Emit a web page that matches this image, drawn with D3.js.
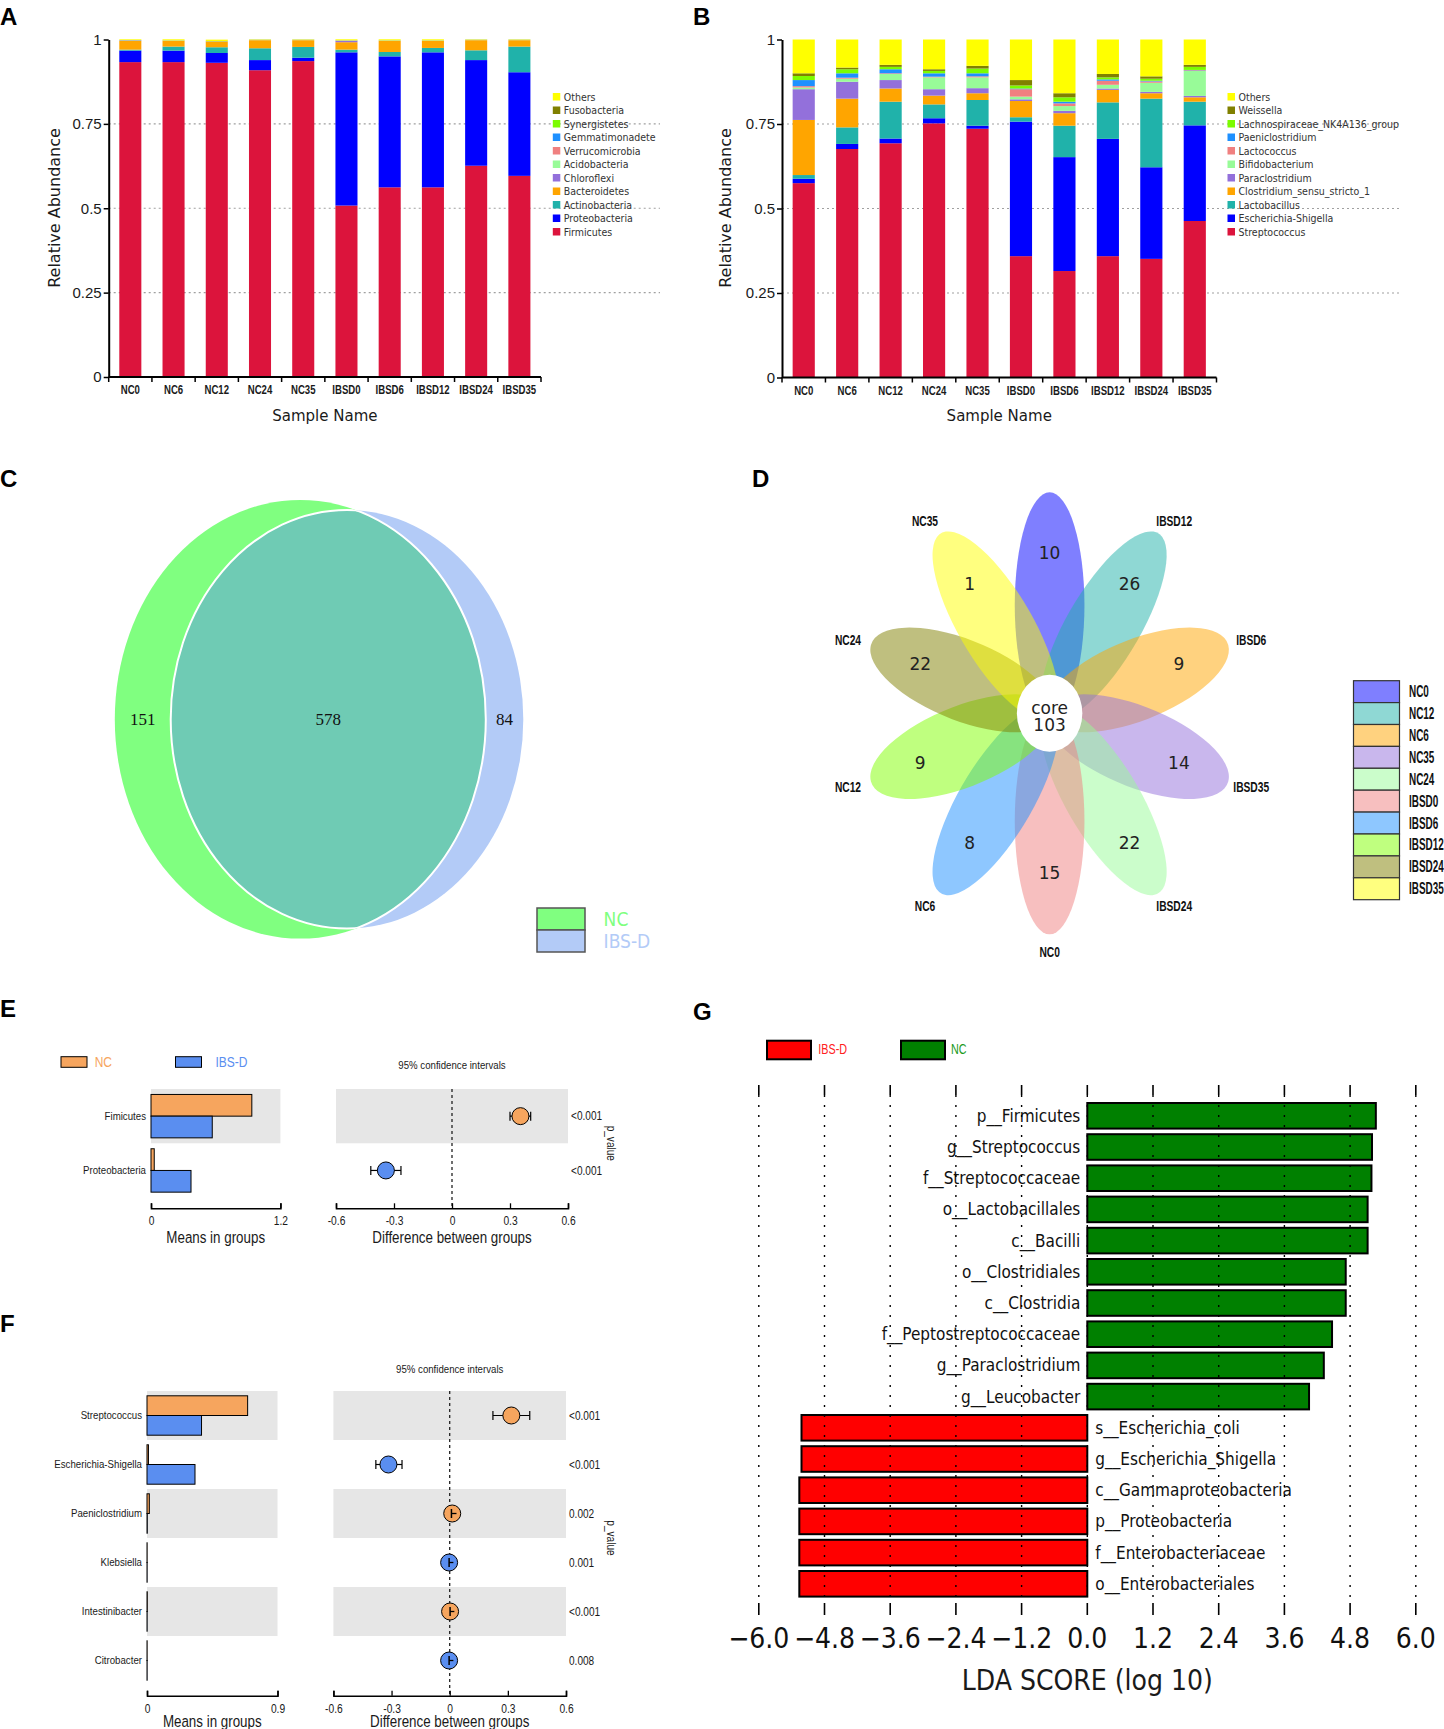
<!DOCTYPE html>
<html>
<head>
<meta charset="utf-8">
<script src="https://cdn.jsdelivr.net/npm/d3@7"></script>
<style>
  html, body { margin: 0; padding: 0; background: #fff; }
  svg { display: block; }
</style>
</head>
<body>
<svg id="fig" width="1444" height="1729"></svg>
<script>
// ---------- data ----------
var samples = ["NC0", "NC6", "NC12", "NC24", "NC35", "IBSD0", "IBSD6", "IBSD12", "IBSD24", "IBSD35"];

// A: phylum level relative abundance (stack order bottom -> top)
var phyla = ["Firmicutes", "Proteobacteria", "Actinobacteria", "Bacteroidetes", "Chloroflexi", "Acidobacteria",
  "Verrucomicrobia", "Gemmatimonadete", "Synergistetes", "Fusobacteria", "Others"];
var aFirmicutes       = [.933, .933, .931, .909, .936, .508, .562, .562, .626, .596];
var aProteobacteria   = [.034, .034, .029, .030, .010, .454, .388, .400, .313, .307];
var aActinobacteria   = [.003, .012, .017, .035, .032, .008, .013, .013, .029, .076];
var aBacteroidetes    = [.026, .017, .017, .024, .020, .022, .033, .021, .030, .019];
var aChloroflexi      = [.001, .000, .000, .000, .000, .004, .000, .000, .000, .000];
var aAcidobacteria    = [.0004, .0004, .0004, .0004, .0004, .0004, .0004, .0004, .0004, .0004];
var aVerrucomicrobia  = [.0003, .0003, .0003, .0003, .0003, .0003, .0003, .0003, .0003, .0003];
var aGemmatimonadetes = [.0003, .0003, .0003, .0003, .0003, .0003, .0003, .0003, .0003, .0003];
var aSynergistetes    = [.0003, .0003, .0003, .0003, .0003, .0003, .0003, .0003, .0003, .0003];
var aFusobacteria     = [.0003, .0003, .0003, .0003, .0003, .0003, .0003, .0003, .0003, .0003];
var aOthers           = [.002, .003, .004, .001, .001, .003, .003, .003, .001, .001];

// B: genus level relative abundance (stack order bottom -> top)
var genera = ["Streptococcus", "Escherichia-Shigella", "Lactobacillus", "Clostridium_sensu_stricto_1", "Paraclostridium",
  "Bifidobacterium", "Lactococcus", "Paeniclostridium", "Lachnospiraceae_NK4A136_group", "Weissella", "Others"];
var bStreptococcus   = [.575, .676, .693, .752, .736, .359, .315, .359, .351, .463];
var bEscherichia     = [.013, .015, .014, .015, .009, .398, .337, .347, .271, .283];
var bLactobacillus   = [.011, .049, .109, .041, .076, .013, .093, .108, .203, .070];
var bClostridium     = [.163, .085, .039, .026, .020, .048, .037, .037, .016, .013];
var bParaclostridium = [.091, .050, .025, .019, .015, .005, .007, .004, .004, .004];
var bBifidobacterium = [.005, .009, .018, .035, .032, .008, .014, .011, .027, .074];
var bLactococcus     = [.004, .003, .002, .002, .003, .022, .008, .012, .004, .002];
var bPaeniclostridium= [.018, .013, .012, .010, .009, .002, .005, .004, .002, .001];
var bLachnospiraceae = [.012, .012, .007, .007, .014, .009, .013, .006, .006, .009];
var bWeissella       = [.008, .005, .006, .005, .008, .016, .012, .010, .007, .006];
var bOthers          = [.100, .083, .075, .088, .078, .120, .159, .102, .109, .075];

var stackColors = ["#dc143c", "#0000ff", "#20b2aa", "#ffa500", "#9370db", "#98fb98",
  "#f08080", "#1e90ff", "#7cfc00", "#808000", "#ffff00"];

// C: Venn counts [NC only, shared, IBS-D only]
var vennCounts = [151, 578, 84];
var vennGroups = ["NC", "IBS-D"];

// D: flower, petals clockwise from the top
var petalCounts = [10, 26, 9, 14, 22, 15, 8, 9, 22, 1];
var petalLabels = ["", "IBSD12", "IBSD6", "IBSD35", "IBSD24", "NC0", "NC6", "NC12", "NC24", "NC35"];
var petalColors = ["#0000ff", "#20b2aa", "#ffa500", "#9370db", "#98fb98", "#f08080", "#1e90ff", "#7fff00", "#808000", "#ffff00"];
var flowerLegend = ["NC0", "NC12", "NC6", "NC35", "NC24", "IBSD0", "IBSD6", "IBSD12", "IBSD24", "IBSD35"];
var coreCount = 103;

// E: phylum level STAMP
var eTaxa   = ["Fimicutes", "Proteobacteria"];
var eMeanNC = [0.935, 0.030];
var eMeanIB = [0.568, 0.371];
var eDiff   = [0.354, -0.342];
var eLow    = [0.300, -0.420];
var eHigh   = [0.407, -0.264];
var eP      = ["<0.001", "<0.001"];

// F: genus level STAMP
var fTaxa   = ["Streptococcus", "Escherichia-Shigella", "Paeniclostridium", "Klebsiella", "Intestinibacter", "Citrobacter"];
var fMeanNC = [0.694, 0.010, 0.016, 0.001, 0.002, 0.001];
var fMeanIB = [0.376, 0.331, 0.002, 0.001, 0.001, 0.001];
var fDiff   = [0.318, -0.316, 0.013, -0.003, 0.002, -0.003];
var fLow    = [0.223, -0.381, 0.009, -0.003, 0.002, -0.003];
var fHigh   = [0.413, -0.246, 0.037, 0.027, 0.034, 0.025];
var fP      = ["<0.001", "<0.001", "0.002", "0.001", "<0.001", "0.008"];

// G: LEfSe LDA scores
var ldaTaxa = ["p__Firmicutes", "g__Streptococcus", "f__Streptococcaceae", "o__Lactobacillales", "c__Bacilli",
  "o__Clostridiales", "c__Clostridia", "f__Peptostreptococcaceae", "g__Paraclostridium", "g__Leucobacter",
  "s__Escherichia_coli", "g__Escherichia_Shigella", "c__Gammaproteobacteria", "p__Proteobacteria",
  "f__Enterobacteriaceae", "o__Enterobacteriales"];
var ldaScores = [5.27, 5.20, 5.19, 5.12, 5.12, 4.72, 4.72, 4.47, 4.32, 4.05,
  -5.22, -5.22, -5.26, -5.26, -5.26, -5.26];
var ldaTicks = [-6, -4.8, -3.6, -2.4, -1.2, 0, 1.2, 2.4, 3.6, 4.8, 6];

// ---------- styles ----------
var COND = "'DejaVu Sans Condensed', 'DejaVu Sans', sans-serif";
var SANS = "'DejaVu Sans', Verdana, sans-serif";
var ARIAL = "'Liberation Sans', Arial, sans-serif";
var SERIF = "'Liberation Serif', 'Times New Roman', serif";
var ORANGE = "#f6a55e", BLUE = "#5a8ef0", GRAY = "#e6e6e6";

var svg = d3.select("#fig");
svg.append("rect").attr("width", 1444).attr("height", 1729).attr("fill", "#fff");

function txt(g, s, x, y, size, family) {
  return g.append("text").attr("x", x).attr("y", y).text(s)
    .attr("font-size", size).attr("font-family", family).attr("fill", "#1a1a1a");
}
// narrow text: Liberation Sans squeezed horizontally (no narrow face installed)
function ntxt(g, s, x, y, size, sx) {
  return g.append("text").attr("transform", "translate(" + x + "," + y + ") scale(" + (sx || 0.82) + ",1)")
    .text(s).attr("font-size", size).attr("font-family", ARIAL).attr("fill", "#1a1a1a");
}

// panel letters
[["A", 0, 25], ["B", 693, 25], ["C", 0, 487], ["D", 752, 487], ["E", 0, 1017], ["F", 0, 1332], ["G", 693, 1020]]
  .forEach(function (l) {
    txt(svg, l[0], l[1], l[2], 24, ARIAL).attr("font-weight", "bold").attr("fill", "#000");
  });

// ---------- A / B stacked bars ----------
function stackPanel(cfg) {
  var g = svg.append("g");
  var rows = samples.map(function (s, i) {
    var r = { sample: s };
    cfg.keys.forEach(function (k, j) { r[k] = cfg.values[j][i]; });
    return r;
  });
  var x = d3.scaleBand().domain(samples).range([cfg.x0, cfg.x1]).paddingInner(0.49).paddingOuter(0.245);
  var y = d3.scaleLinear().domain([0, 1]).range([cfg.yb, cfg.yt]);
  var series = d3.stack().keys(cfg.keys)(rows);

  g.append("g").selectAll("line").data([0.25, 0.5, 0.75]).join("line")
    .attr("x1", cfg.x0).attr("x2", cfg.gridEnd)
    .attr("y1", function (d) { return y(d); }).attr("y2", function (d) { return y(d); })
    .attr("stroke", "#a0a0a0").attr("stroke-width", 1.2).attr("stroke-dasharray", "2,3");

  g.append("g").selectAll("g").data(series).join("g")
    .attr("fill", function (d, i) { return stackColors[i]; })
    .selectAll("rect").data(function (d) { return d; }).join("rect")
      .attr("x", function (d) { return x(d.data.sample); })
      .attr("width", x.bandwidth())
      .attr("y", function (d) { return y(d[1]); })
      .attr("height", function (d) { return Math.max(0, y(d[0]) - y(d[1])); });

  var ya = g.append("g").attr("transform", "translate(" + cfg.x0 + ",0)")
    .call(d3.axisLeft(y).tickValues([0, 0.25, 0.5, 0.75, 1]).tickFormat(d3.format("~g"))
      .tickSize(5).tickSizeOuter(0).tickPadding(2));
  ya.select(".domain").attr("stroke-width", 2);
  ya.selectAll(".tick line").attr("stroke-width", 1.5);
  ya.selectAll("text").attr("font-family", ARIAL).attr("font-size", 15).attr("fill", "#1a1a1a");

  var xa = g.append("g").attr("transform", "translate(0," + cfg.yb + ")")
    .call(d3.axisBottom(x).tickSize(0).tickPadding(8));
  xa.select(".domain").remove();
  xa.selectAll("text").attr("font-family", ARIAL).attr("font-weight", "bold").attr("font-size", 12.8)
    .attr("transform", "scale(0.75,1)").attr("fill", "#1a1a1a");
  var bounds = samples.map(function (s) { return x(s) + x.bandwidth() / 2 - x.step() / 2; }).concat([cfg.x1]);
  g.append("line").attr("x1", cfg.x0).attr("x2", cfg.x1).attr("y1", cfg.yb).attr("y2", cfg.yb)
    .attr("stroke", "#000").attr("stroke-width", 2);
  g.append("g").selectAll("line").data(bounds).join("line")
    .attr("x1", function (d) { return d; }).attr("x2", function (d) { return d; })
    .attr("y1", cfg.yb).attr("y2", cfg.yb + 5).attr("stroke", "#000").attr("stroke-width", 1.5);

  txt(g, "Relative Abundance", 0, 0, 16, SANS).attr("text-anchor", "middle").attr("dominant-baseline", "central")
    .attr("transform", "translate(" + cfg.yLabelX + ",208) rotate(-90)");
  txt(g, "Sample Name", (cfg.x0 + cfg.x1) / 2, 421, 15, SANS).attr("text-anchor", "middle");

  var leg = g.append("g");
  var keysTop = cfg.keys.slice().reverse();
  keysTop.forEach(function (k, i) {
    var ly = 96.7 + i * 13.5;
    leg.append("rect").attr("x", cfg.legendX).attr("y", ly - 3.7).attr("width", 7.5).attr("height", 7.5)
      .attr("fill", stackColors[cfg.keys.length - 1 - i]);
    txt(leg, k, cfg.legendX + 11, ly, 10.5, COND).attr("dominant-baseline", "central").attr("fill", "#333");
  });
}

stackPanel({
  keys: phyla,
  values: [aFirmicutes, aProteobacteria, aActinobacteria, aBacteroidetes, aChloroflexi, aAcidobacteria,
    aVerrucomicrobia, aGemmatimonadetes, aSynergistetes, aFusobacteria, aOthers],
  x0: 108.7, x1: 541, yt: 39.5, yb: 377, gridEnd: 660, legendX: 552.8, yLabelX: 54
});
stackPanel({
  keys: genera,
  values: [bStreptococcus, bEscherichia, bLactobacillus, bClostridium, bParaclostridium, bBifidobacterium,
    bLactococcus, bPaeniclostridium, bLachnospiraceae, bWeissella, bOthers],
  x0: 782, x1: 1216.5, yt: 39.5, yb: 377.5, gridEnd: 1400, legendX: 1227.5, yLabelX: 725
});

// ---------- C Venn ----------
(function () {
  var g = svg.append("g");
  var nc = { cx: 300.3, cy: 719.3, rx: 185.5, ry: 219.3 };
  var ib = { cx: 347, cy: 719.3, rx: 176.3, ry: 209.3 };
  var defs = svg.append("defs");
  defs.append("clipPath").attr("id", "clipNC").append("ellipse")
    .attr("cx", nc.cx).attr("cy", nc.cy).attr("rx", nc.rx).attr("ry", nc.ry);
  defs.append("clipPath").attr("id", "clipIB").append("ellipse")
    .attr("cx", ib.cx).attr("cy", ib.cy).attr("rx", ib.rx).attr("ry", ib.ry);
  function ell(e) {
    return g.append("ellipse").attr("cx", e.cx).attr("cy", e.cy).attr("rx", e.rx).attr("ry", e.ry);
  }
  ell(nc).attr("fill", "#80ff80");
  ell(ib).attr("fill", "#b3cbf7");
  ell(ib).attr("fill", "#6fcbb4").attr("clip-path", "url(#clipNC)");
  ell(ib).attr("fill", "none").attr("stroke", "#fff").attr("stroke-width", 2).attr("clip-path", "url(#clipNC)");
  ell(nc).attr("fill", "none").attr("stroke", "#fff").attr("stroke-width", 2).attr("clip-path", "url(#clipIB)");

  var xs = [(nc.cx - nc.rx + ib.cx - ib.rx) / 2, (ib.cx - ib.rx + nc.cx + nc.rx) / 2, (nc.cx + nc.rx + ib.cx + ib.rx) / 2];
  vennCounts.forEach(function (c, i) {
    txt(g, c, xs[i], nc.cy, 17, SERIF).attr("text-anchor", "middle").attr("dominant-baseline", "central").attr("fill", "#111");
  });
  var legCol = ["#80ff80", "#b3cbf7"];
  vennGroups.forEach(function (n, i) {
    g.append("rect").attr("x", 537).attr("y", 908 + i * 22).attr("width", 48).attr("height", 22)
      .attr("fill", legCol[i]).attr("stroke", "#555").attr("stroke-width", 1.5);
    txt(g, n, 603.6, 919 + i * 22, 19, COND).attr("dominant-baseline", "central").attr("fill", legCol[i]);
  });
})();

// ---------- D flower ----------
(function () {
  var cx = 1049.6, cy = 713.3, sx = 0.85;
  var ang = d3.scaleBand().domain(d3.range(petalCounts.length)).range([0, 360]);
  var g = svg.append("g");
  var fl = g.append("g").attr("transform", "translate(" + cx + "," + cy + ") scale(" + sx + ",1)");
  fl.selectAll("ellipse").data(petalCounts).join("ellipse")
    .attr("cx", 0).attr("cy", -108).attr("rx", 41).attr("ry", 113)
    .attr("transform", function (d, i) { return "rotate(" + ang(i) + ")"; })
    .attr("fill", function (d, i) { return petalColors[i]; }).attr("fill-opacity", 0.5);
  fl.append("circle").attr("r", 38.5).attr("fill", "#fff");

  function pos(rx, ry, i) {
    var a = ang(i) * Math.PI / 180;
    return [cx + rx * Math.sin(a), cy - ry * Math.cos(a)];
  }
  petalCounts.forEach(function (n, i) {
    var p = pos(160 * sx, 160, i);
    txt(g, n, p[0], p[1], 17, SANS).attr("text-anchor", "middle").attr("dominant-baseline", "central").attr("fill", "#222");
    var q = pos(212, 238, i);
    ntxt(g, petalLabels[i], q[0], q[1], 15.5, 0.66).attr("font-weight", "bold")
      .attr("text-anchor", "middle").attr("dominant-baseline", "central").attr("fill", "#111");
  });
  txt(g, "core", cx, cy - 5, 17, SANS).attr("text-anchor", "middle").attr("dominant-baseline", "central").attr("fill", "#222");
  txt(g, coreCount, cx, cy + 12, 17, SANS).attr("text-anchor", "middle").attr("dominant-baseline", "central").attr("fill", "#222");

  flowerLegend.forEach(function (n, i) {
    var y0 = 680.7 + i * 21.9;
    g.append("rect").attr("x", 1353.5).attr("y", y0).attr("width", 46).attr("height", 21.9).attr("fill", "#fff");
    g.append("rect").attr("x", 1353.5).attr("y", y0).attr("width", 46).attr("height", 21.9)
      .attr("fill", petalColors[i]).attr("fill-opacity", 0.5).attr("stroke", "#333").attr("stroke-width", 1.2);
    ntxt(g, n, 1409, y0 + 11, 16, 0.62).attr("font-weight", "bold").attr("dominant-baseline", "central").attr("fill", "#111");
  });
})();

// ---------- E / F STAMP plots ----------
function diffPanel(cfg) {
  var g = svg.append("g");
  var n = cfg.names.length;
  var yb = d3.scaleBand().domain(cfg.names).range([cfg.rowTop, cfg.rowTop + cfg.rowH * n]);
  var xm = d3.scaleLinear().domain([0, cfg.meanMax]).range(cfg.meanRange);
  var xd = d3.scaleLinear().domain([-0.6, 0.6]).range(cfg.diffRange);
  var mid = function (d) { return yb(d) + yb.bandwidth() / 2; };
  var striped = cfg.names.filter(function (d, i) { return i % 2 === 0; });
  var near0 = function (i) { return Math.abs(cfg.diff[i]) < 0.05 ? 1 : 0; };

  [cfg.meanRange, cfg.diffRange].forEach(function (r) {
    g.append("g").selectAll("rect").data(striped).join("rect")
      .attr("x", r[0]).attr("width", r[1] - r[0])
      .attr("y", function (d) { return yb(d); }).attr("height", yb.bandwidth()).attr("fill", GRAY);
  });

  g.append("g").selectAll("rect").data(cfg.names).join("rect")
    .attr("x", xm(0)).attr("y", function (d) { return mid(d) - cfg.barH; })
    .attr("width", function (d, i) { return xm(cfg.nc[i]) - xm(0); }).attr("height", cfg.barH)
    .attr("fill", ORANGE).attr("stroke", "#000").attr("stroke-width", 1);
  g.append("g").selectAll("rect").data(cfg.names).join("rect")
    .attr("x", xm(0)).attr("y", function (d) { return mid(d); })
    .attr("width", function (d, i) { return xm(cfg.ib[i]) - xm(0); }).attr("height", cfg.barH)
    .attr("fill", BLUE).attr("stroke", "#000").attr("stroke-width", 1);

  g.append("g").selectAll("text").data(cfg.names).join("text")
    .attr("transform", function (d) { return "translate(" + (xm(0) - 5) + "," + mid(d) + ") scale(0.88,1)"; })
    .text(function (d) { return d; })
    .attr("text-anchor", "end").attr("dominant-baseline", "central")
    .attr("font-family", ARIAL).attr("font-size", 11).attr("fill", "#1a1a1a");

  // zero line
  g.append("line").attr("x1", xd(0)).attr("x2", xd(0)).attr("y1", cfg.rowTop).attr("y2", cfg.axisY)
    .attr("stroke", "#222").attr("stroke-width", 1.3).attr("stroke-dasharray", "3,3");

  // error bars + markers
  var eb = g.append("g").selectAll("g").data(cfg.names).join("g");
  eb.append("line").attr("x1", function (d, i) { return xd(cfg.lo[i]); }).attr("x2", function (d, i) { return xd(cfg.hi[i]); })
    .attr("y1", mid).attr("y2", mid).attr("stroke", "#000").attr("stroke-width", 1.2);
  [cfg.lo, cfg.hi].forEach(function (arr) {
    eb.append("line").attr("x1", function (d, i) { return xd(arr[i]); }).attr("x2", function (d, i) { return xd(arr[i]); })
      .attr("y1", function (d) { return mid(d) - 4.5; }).attr("y2", function (d) { return mid(d) + 4.5; })
      .attr("stroke", "#000").attr("stroke-width", 1.2);
  });
  eb.append("circle").attr("cx", function (d, i) { return xd(cfg.diff[i]); }).attr("cy", mid).attr("r", 8.5)
    .attr("fill", function (d, i) { return cfg.diff[i] > 0 ? ORANGE : BLUE; })
    .attr("stroke", "#000").attr("stroke-width", 1);
  // intervals narrower than the marker stay visible on top of it
  eb.append("line").attr("x1", function (d, i) { return xd(cfg.lo[i]); })
    .attr("x2", function (d, i) { return xd(Math.min(cfg.hi[i], cfg.diff[i] + 0.022)); })
    .attr("y1", mid).attr("y2", mid).attr("stroke", "#000").attr("stroke-width", 1.3)
    .attr("opacity", function (d, i) { return near0(i); });
  eb.append("line").attr("x1", function (d, i) { return xd(cfg.lo[i]); }).attr("x2", function (d, i) { return xd(cfg.lo[i]); })
    .attr("y1", function (d) { return mid(d) - 4.5; }).attr("y2", function (d) { return mid(d) + 4.5; })
    .attr("stroke", "#000").attr("stroke-width", 1.5)
    .attr("opacity", function (d, i) { return near0(i); });

  g.append("g").selectAll("text").data(cfg.names).join("text")
    .attr("transform", function (d) { return "translate(" + (cfg.diffRange[1] + 3) + "," + mid(d) + ") scale(0.84,1)"; })
    .text(function (d, i) { return cfg.p[i]; })
    .attr("dominant-baseline", "central").attr("font-family", ARIAL).attr("font-size", 12).attr("fill", "#1a1a1a");
  g.append("text").text("p_value")
    .attr("transform", "translate(611," + (cfg.rowTop + cfg.rowH * n / 2) + ") rotate(90) scale(0.84,1)")
    .attr("text-anchor", "middle").attr("dominant-baseline", "central")
    .attr("font-family", ARIAL).attr("font-size", 12).attr("fill", "#1a1a1a");

  ntxt(g, "95% confidence intervals", xd(0), cfg.ciY, 11.5, 0.84).attr("text-anchor", "middle")
    .attr("dominant-baseline", "central");

  var fmt = function (d) { return String(d); };
  var am = g.append("g").attr("transform", "translate(0," + cfg.axisY + ")")
    .call(d3.axisBottom(xm).tickValues([0, cfg.meanMax]).tickFormat(fmt).tickSize(-5).tickPadding(8));
  var ad = g.append("g").attr("transform", "translate(0," + cfg.axisY + ")")
    .call(d3.axisBottom(xd).tickValues([-0.6, -0.3, 0, 0.3, 0.6]).tickFormat(fmt).tickSize(-5).tickPadding(8));
  [am, ad].forEach(function (a) {
    a.select(".domain").attr("stroke-width", 1.6);
    a.selectAll(".tick line").attr("stroke-width", 1.3);
    a.selectAll("text").attr("font-family", ARIAL).attr("font-size", 12.5).attr("transform", "scale(0.82,1)")
      .attr("fill", "#1a1a1a");
  });
  ntxt(g, "Means in groups", (cfg.meanRange[0] + cfg.meanRange[1]) / 2, cfg.titleY, 16.5, 0.81)
    .attr("text-anchor", "middle").attr("dominant-baseline", "central");
  ntxt(g, "Difference between groups", xd(0), cfg.titleY, 16.5, 0.81)
    .attr("text-anchor", "middle").attr("dominant-baseline", "central");
  return g;
}

var gE = diffPanel({
  names: eTaxa, nc: eMeanNC, ib: eMeanIB, diff: eDiff, lo: eLow, hi: eHigh, p: eP,
  rowTop: 1089, rowH: 54.3, barH: 21.7, meanMax: 1.2, meanRange: [151, 280.4], diffRange: [336, 568],
  axisY: 1208.3, titleY: 1237, ciY: 1065
});
[["NC", ORANGE, 61, 94.7], ["IBS-D", BLUE, 175.5, 215.5]].forEach(function (l) {
  gE.append("rect").attr("x", l[2]).attr("y", 1056.7).attr("width", 26).attr("height", 10.6)
    .attr("fill", l[1]).attr("stroke", "#000").attr("stroke-width", 1);
  ntxt(gE, l[0], l[3], 1062, 15, 0.8).attr("dominant-baseline", "central").attr("fill", l[1]);
});

diffPanel({
  names: fTaxa, nc: fMeanNC, ib: fMeanIB, diff: fDiff, lo: fLow, hi: fHigh, p: fP,
  rowTop: 1391, rowH: 49, barH: 19.7, meanMax: 0.9, meanRange: [147, 277.5], diffRange: [333.4, 566],
  axisY: 1695.7, titleY: 1721, ciY: 1369
});

// ---------- G LEfSe ----------
(function () {
  var g = svg.append("g");
  var x = d3.scaleLinear().domain([-6, 6]).range([758.8, 1415.8]);
  var y = d3.scaleBand().domain(ldaTaxa).range([1100.2, 1599.4]).paddingInner(0.18).paddingOuter(0.09);
  var top = 1085, bot = 1615;

  g.append("g").selectAll("rect").data(ldaTaxa).join("rect")
    .attr("x", function (d, i) { return x(Math.min(0, ldaScores[i])); })
    .attr("width", function (d, i) { return Math.abs(x(ldaScores[i]) - x(0)); })
    .attr("y", function (d) { return y(d); }).attr("height", y.bandwidth())
    .attr("fill", function (d, i) { return ldaScores[i] > 0 ? "#008000" : "#ff0000"; })
    .attr("stroke", "#000").attr("stroke-width", 2);

  g.append("g").selectAll("text").data(ldaTaxa).join("text")
    .attr("x", function (d, i) { return ldaScores[i] > 0 ? x(0) - 7 : x(0) + 8; })
    .attr("y", function (d) { return y(d) + y.bandwidth() / 2; })
    .attr("text-anchor", function (d, i) { return ldaScores[i] > 0 ? "end" : "start"; })
    .attr("dominant-baseline", "central").text(function (d) { return d; })
    .attr("font-family", COND).attr("font-size", 17).attr("fill", "#111");

  var grid = g.append("g").selectAll("g").data(ldaTicks).join("g");
  grid.append("line").attr("x1", x).attr("x2", x).attr("y1", top + 10).attr("y2", bot - 12)
    .attr("stroke", "#000").attr("stroke-width", 1.4).attr("stroke-dasharray", "2,8");
  grid.append("line").attr("x1", x).attr("x2", x).attr("y1", top).attr("y2", top + 10)
    .attr("stroke", "#000").attr("stroke-width", 1.6);
  grid.append("line").attr("x1", x).attr("x2", x).attr("y1", bot - 12).attr("y2", bot)
    .attr("stroke", "#000").attr("stroke-width", 1.6);
  grid.append("text").attr("x", x).attr("y", 1638).attr("text-anchor", "middle").attr("dominant-baseline", "central")
    .text(function (d) { return (d < 0 ? "\u2212" : "") + Math.abs(d).toFixed(1); })
    .attr("font-family", COND).attr("font-size", 28).attr("fill", "#111");
  txt(g, "LDA SCORE (log 10)", x(0), 1680, 28, COND).attr("text-anchor", "middle").attr("dominant-baseline", "central");

  [["IBS-D", "#ff0000", "#ff2020", 767, 818.3], ["NC", "#008000", "#1a9a1a", 901, 951]].forEach(function (l) {
    g.append("rect").attr("x", l[3]).attr("y", 1040.7).attr("width", 44).attr("height", 18.6)
      .attr("fill", l[1]).attr("stroke", "#000").attr("stroke-width", 2);
    ntxt(g, l[0], l[4], 1050, 14, 0.77).attr("dominant-baseline", "central").attr("fill", l[2]);
  });
})();
</script>
</body>
</html>
